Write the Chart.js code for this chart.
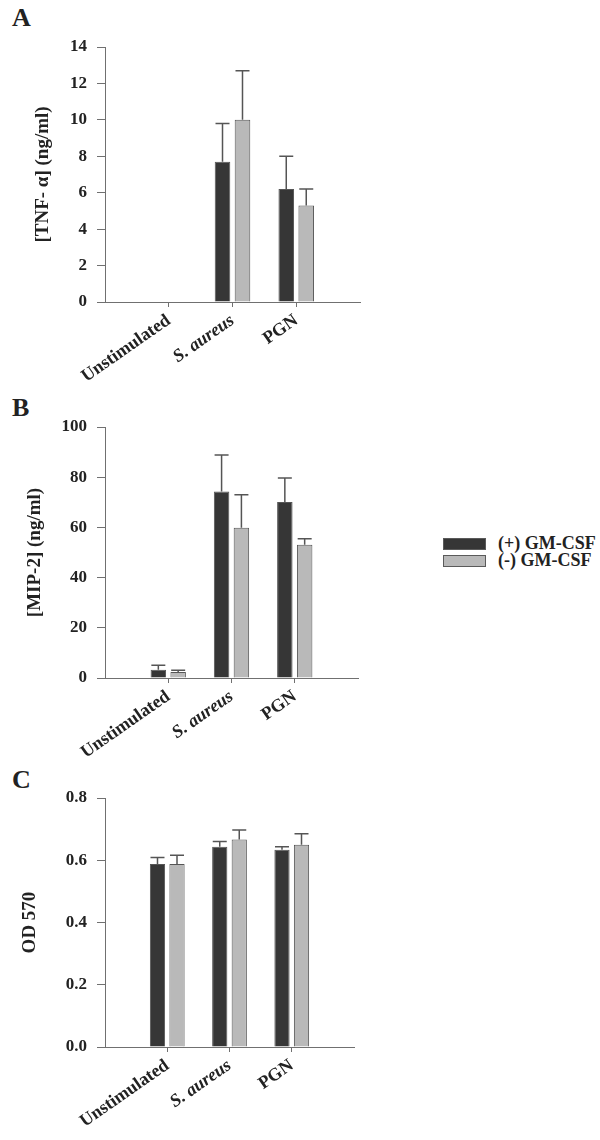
<!DOCTYPE html>
<html>
<head>
<meta charset="utf-8">
<script src="https://cdn.jsdelivr.net/npm/chart.js@4.4.0/dist/chart.umd.min.js"></script>
<style>
  body { margin: 0; background: #fff; width: 600px; height: 1140px; position: relative; overflow: hidden;
         font-family: "Liberation Serif", "Times New Roman", serif; color: #222; }
  canvas { position: absolute; left: 0; }
  .letter { position: absolute; left: 12px; font-weight: bold; font-size: 26px; line-height: 1; }
  #legend { position: absolute; left: 443px; top: 535px; font-weight: bold; font-size: 18px; }
  #legend .item { display: flex; align-items: center; height: 17px; }
  #legend .swatch { width: 41px; height: 10px; border: 1px solid #5a5a5a; margin-right: 12px; }
</style>
</head>
<body>
<div class="letter" style="top:5px">A</div>
<div class="letter" style="top:395px">B</div>
<div class="letter" style="top:767px">C</div>
<canvas id="chartA" width="380" height="400" style="top:0"></canvas>
<canvas id="chartB" width="380" height="400" style="top:380px"></canvas>
<canvas id="chartC" width="380" height="400" style="top:760px"></canvas>
<div id="legend"></div>
<script>
const categories = ['Unstimulated', 'S. aureus', 'PGN'];
const seriesLabels = ['(+) GM-CSF', '(-) GM-CSF'];
const seriesColors = ['#363636', '#b9b9b9'];

// A: TNF-alpha (ng/ml)
const tnfPlus = [0, 7.7, 6.2];
const tnfMinus = [0, 10.0, 5.3];
const tnfPlusSd = [null, 2.1, 1.8];
const tnfMinusSd = [null, 2.7, 0.9];
const tnfTicks = [0, 2, 4, 6, 8, 10, 12, 14];

// B: MIP-2 (ng/ml)
const mipPlus = [3.3, 74.3, 70.1];
const mipMinus = [2.4, 59.9, 53.1];
const mipPlusSd = [1.8, 14.5, 9.6];
const mipMinusSd = [0.7, 13.1, 2.4];
const mipTicks = [0, 20, 40, 60, 80, 100];

// C: OD 570
const odPlus = [0.588, 0.643, 0.634];
const odMinus = [0.588, 0.667, 0.650];
const odPlusSd = [0.021, 0.017, 0.009];
const odMinusSd = [0.028, 0.030, 0.035];
const odTicks = [0, 0.2, 0.4, 0.6, 0.8];

const axisColor = '#707070';
const textColor = '#222';
const serif = '"Liberation Serif", "Times New Roman", serif';

// upper error bars only, as in the figure
const errorBars = {
  id: 'errorBars',
  afterDatasetsDraw(chart, args, opts) {
    const ctx = chart.ctx;
    const y = chart.scales.y;
    ctx.save();
    ctx.strokeStyle = '#555';
    ctx.lineWidth = 1.5;
    chart.data.datasets.forEach((ds, di) => {
      const sd = opts.sd[di];
      chart.getDatasetMeta(di).data.forEach((bar, i) => {
        if (sd[i] == null) return;
        const top = y.getPixelForValue(ds.data[i].y + sd[i]);
        ctx.beginPath();
        ctx.moveTo(bar.x, bar.y);
        ctx.lineTo(bar.x, top);
        ctx.moveTo(bar.x - 7, top);
        ctx.lineTo(bar.x + 7, top);
        ctx.stroke();
      });
    });
    ctx.restore();
  }
};

const toPoints = vals => categories.map((c, i) => ({ x: i, y: vals[i] }));

const drawPanel = (id, plus, minus, plusSd, minusSd, yTicks, yTitle, fmt, pad, titlePad) => {
  new Chart(document.getElementById(id), {
    type: 'bar',
    data: {
      datasets: [
        { label: seriesLabels[0], data: toPoints(plus), backgroundColor: seriesColors[0] },
        { label: seriesLabels[1], data: toPoints(minus), backgroundColor: seriesColors[1] }
      ]
    },
    options: {
      responsive: false,
      animation: false,
      layout: { padding: { top: pad.top, right: pad.right, bottom: pad.bottom, left: 0 } },
      datasets: {
        bar: { borderColor: '#555', borderWidth: 1, borderSkipped: 'bottom',
               categoryPercentage: 0.627, barPercentage: 0.78 }
      },
      plugins: {
        legend: { display: false },
        tooltip: { enabled: false },
        errorBars: { sd: [plusSd, minusSd] }
      },
      scales: {
        x: {
          type: 'linear',
          min: -1,
          max: 3,
          offset: false,
          afterBuildTicks: s => { s.ticks = categories.map((c, i) => ({ value: i })); },
          // tall enough so the rotated labels are not clipped
          afterFit: s => { s.height = 95; },
          ticks: {
            color: textColor,
            padding: 3,
            minRotation: 35,
            maxRotation: 35,
            callback: v => categories[v],
            font: ctx => ({ family: serif, size: 18, weight: 'bold',
                            style: ctx.index === 1 ? 'italic' : 'normal' })
          },
          grid: { offset: false, drawOnChartArea: false, drawTicks: true, tickLength: 5, color: axisColor },
          border: { color: axisColor, width: 1 }
        },
        y: {
          min: yTicks[0],
          max: yTicks[yTicks.length - 1],
          afterBuildTicks: s => { s.ticks = yTicks.map(v => ({ value: v })); },
          afterFit: s => { s.width = 105; },
          ticks: {
            color: textColor,
            padding: 10,
            callback: fmt,
            font: { family: serif, size: 17, weight: 'bold' }
          },
          grid: { drawOnChartArea: false, drawTicks: true, tickLength: 8, color: axisColor },
          border: { color: axisColor, width: 1 },
          title: {
            display: true,
            text: yTitle,
            color: textColor,
            padding: { top: titlePad, bottom: 0 },
            font: { family: serif, size: 19, weight: 'bold', lineHeight: 1 }
          }
        }
      }
    },
    plugins: [errorBars]
  });
};

drawPanel('chartA', tnfPlus, tnfMinus, tnfPlusSd, tnfMinusSd, tnfTicks, '[TNF- \u03b1] (ng/ml)',
  v => v, { top: 47, right: 20, bottom: 3 }, 34);
drawPanel('chartB', mipPlus, mipMinus, mipPlusSd, mipMinusSd, mipTicks, '[MIP-2] (ng/ml)',
  v => v, { top: 47, right: 22, bottom: 7 }, 26);
drawPanel('chartC', odPlus, odMinus, odPlusSd, odMinusSd, odTicks, 'OD 570',
  v => v.toFixed(1), { top: 38, right: 26, bottom: 18 }, 21);

const legend = document.getElementById('legend');
seriesLabels.forEach((label, i) => {
  const item = document.createElement('div');
  item.className = 'item';
  const sw = document.createElement('span');
  sw.className = 'swatch';
  sw.style.background = seriesColors[i];
  const txt = document.createElement('span');
  txt.textContent = label;
  item.appendChild(sw);
  item.appendChild(txt);
  legend.appendChild(item);
});
</script>
</body>
</html>
